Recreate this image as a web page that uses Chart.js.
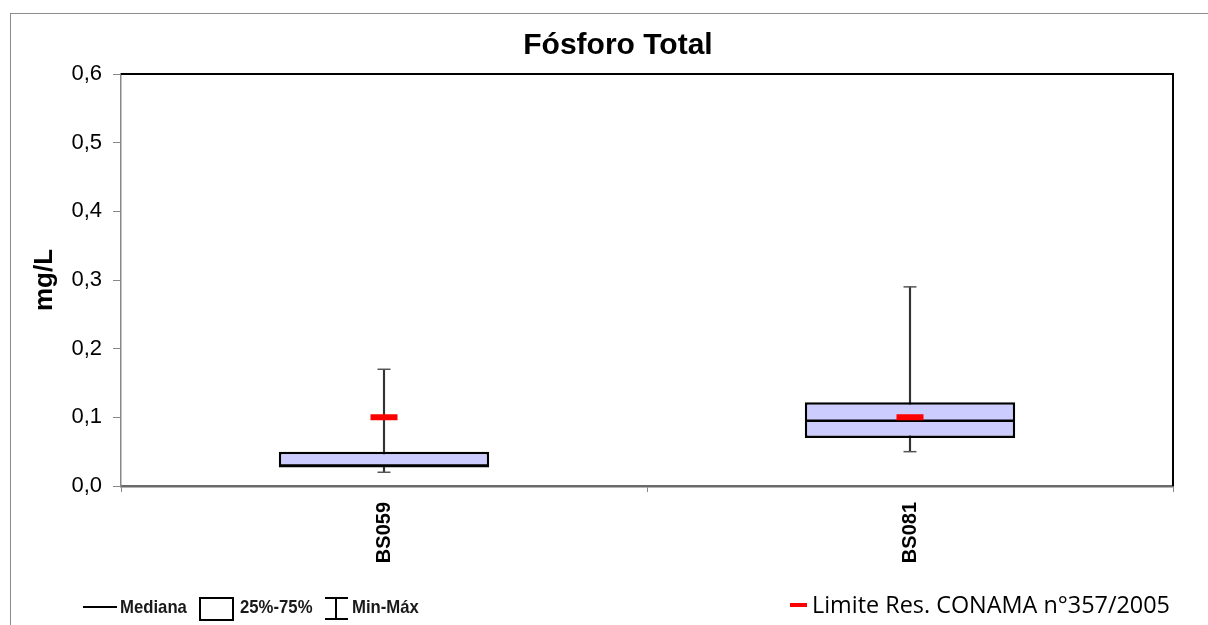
<!DOCTYPE html>
<html lang="pt-BR">
<head>
<meta charset="utf-8">
<title>Fósforo Total</title>
<script src="https://cdn.jsdelivr.net/npm/chart.js@4.4.1/dist/chart.umd.min.js"></script>
<style>
    html, body { margin: 0; padding: 0; background: #fff; overflow: hidden; }
    #moldura { position: absolute; left: 10px; top: 13px; width: 1300px; height: 700px; border: 1px solid #8c8c8c; }
    #grafico { position: absolute; left: 0; top: 0; }
    #titulo { position: absolute; left: 418px; width: 400px; top: 27px; text-align: center;
        font: bold 30px "Liberation Sans", Arial, sans-serif; color: #000; }
    .leg { position: absolute; font: bold 19px "Liberation Sans Narrow", "Liberation Sans", Arial, sans-serif;
        color: #1a1a1a; top: 596px; transform: scaleX(0.88); transform-origin: left center; }
    .icone-linha { position: absolute; left: 83px; top: 606px; width: 34px; height: 2px; background: #000; }
    .icone-caixa { position: absolute; left: 199px; top: 597px; width: 31px; height: 20px; border: 2px solid #000; }
    .icone-i { position: absolute; left: 325px; top: 597px; width: 23px; height: 23px; }
    .icone-i span { position: absolute; background: #000; }
    #limite-traco { position: absolute; left: 790px; top: 603px; width: 17px; height: 4px; background: #f00; }
    #limite-texto { position: absolute; left: 812px; top: 588px; font: 23.4px "Open Sans", sans-serif; color: #000; }
</style>
</head>
<body>
<div id="moldura"></div>
<canvas id="grafico" width="1208" height="625"></canvas>
<div id="titulo">Fósforo Total</div>

<div class="icone-linha"></div>
<div class="leg" style="left:120px">Mediana</div>
<div class="icone-caixa"></div>
<div class="leg" style="left:240px">25%-75%</div>
<div class="icone-i">
    <span style="left:0;top:0;width:23px;height:2px"></span>
    <span style="left:10px;top:0;width:2px;height:23px"></span>
    <span style="left:0;top:21px;width:23px;height:2px"></span>
</div>
<div class="leg" style="left:352px">Min-Máx</div>
<div id="limite-traco"></div>
<div id="limite-texto">Limite Res. CONAMA n°357/2005</div>

<script>
// Pontos de coleta e estatísticas (mg/L)
const categorias = ['BS059', 'BS081'];
const minimos = [0.02, 0.05];
const quartil1 = [0.027, 0.07];
const medianas = [0.03, 0.095];
const quartil3 = [0.05, 0.122];
const maximos = [0.17, 0.29];
const limiteConama = [0.1, 0.1];

// Eixo Y
const yMin = 0;
const yMax = 0.6;
const yPasso = 0.1;

const caixas = categorias.map((c, i) => [quartil1[i], quartil3[i]]);
const hastes = categorias.map((c, i) => [minimos[i], maximos[i]]);

// Borda superior e direita da área do gráfico
const bordaArea = {
    id: 'bordaArea',
    afterDraw(chart) {
        const { ctx, chartArea } = chart;
        ctx.save();
        ctx.strokeStyle = '#000';
        ctx.lineWidth = 2;
        ctx.beginPath();
        ctx.moveTo(chartArea.left, chartArea.top);
        ctx.lineTo(chartArea.right, chartArea.top);
        ctx.lineTo(chartArea.right, chartArea.bottom);
        ctx.stroke();
        ctx.restore();
    }
};

const pontoLinha = (cor, raio, espessura) => ({
    type: 'line',
    showLine: false,
    pointStyle: 'line',
    pointRadius: raio,
    pointHoverRadius: raio,
    pointBorderWidth: espessura,
    pointBorderColor: cor,
    pointBackgroundColor: cor
});

const ctx = document.getElementById('grafico').getContext('2d');
new Chart(ctx, {
    type: 'bar',
    data: {
        labels: categorias,
        datasets: [
            {
                label: 'Min-Máx',
                data: hastes,
                backgroundColor: '#333',
                barThickness: 1.5,
                grouped: false,
                order: 5
            },
            {
                label: '25%-75%',
                data: caixas,
                backgroundColor: '#ccccff',
                borderColor: '#000',
                borderWidth: 2.5,
                borderSkipped: false,
                barPercentage: 0.4,
                categoryPercentage: 1,
                grouped: false,
                order: 4
            },
            Object.assign({ label: 'Máx', data: maximos, order: 3 }, pontoLinha('#555', 6.5, 1.5)),
            Object.assign({ label: 'Mín', data: minimos, order: 3 }, pontoLinha('#555', 6.5, 1.5)),
            Object.assign({ label: 'Mediana', data: medianas, order: 2 }, pontoLinha('#000', 105, 2.5)),
            Object.assign({ label: 'Limite', data: limiteConama, order: 1 }, pontoLinha('#ff0000', 13.5, 6))
        ]
    },
    options: {
        responsive: false,
        animation: false,
        layout: { autoPadding: false, padding: { top: 74, right: 35, bottom: 0, left: 0 } },
        plugins: {
            legend: { display: false },
            tooltip: { enabled: false },
            title: { display: false }
        },
        scales: {
            x: {
                grid: { offset: true, drawOnChartArea: false, tickLength: 6, color: '#888' },
                border: { color: '#6a6a6a', width: 2.5 },
                ticks: {
                    minRotation: 90,
                    maxRotation: 90,
                    padding: 10,
                    color: '#000',
                    font: { family: '"Liberation Sans", Arial', size: 20, weight: 'bold' }
                },
                afterFit: (escala) => { escala.height = 139; }
            },
            y: {
                min: yMin,
                max: yMax,
                grid: { drawOnChartArea: false, tickLength: 8, color: '#888' },
                border: { color: '#888', width: 1.5 },
                ticks: {
                    stepSize: yPasso,
                    padding: 11,
                    color: '#000',
                    font: { family: '"Liberation Sans", Arial', size: 22 },
                    callback: (valor) => valor.toFixed(1).replace('.', ',')
                },
                title: {
                    display: true,
                    text: 'mg/L',
                    color: '#000',
                    padding: { top: 29, bottom: 0 },
                    font: { family: '"Liberation Sans", Arial', size: 26, weight: 'bold' }
                },
                afterFit: (escala) => { escala.width = 121; }
            }
        }
    },
    plugins: [bordaArea]
});
</script>
</body>
</html>
